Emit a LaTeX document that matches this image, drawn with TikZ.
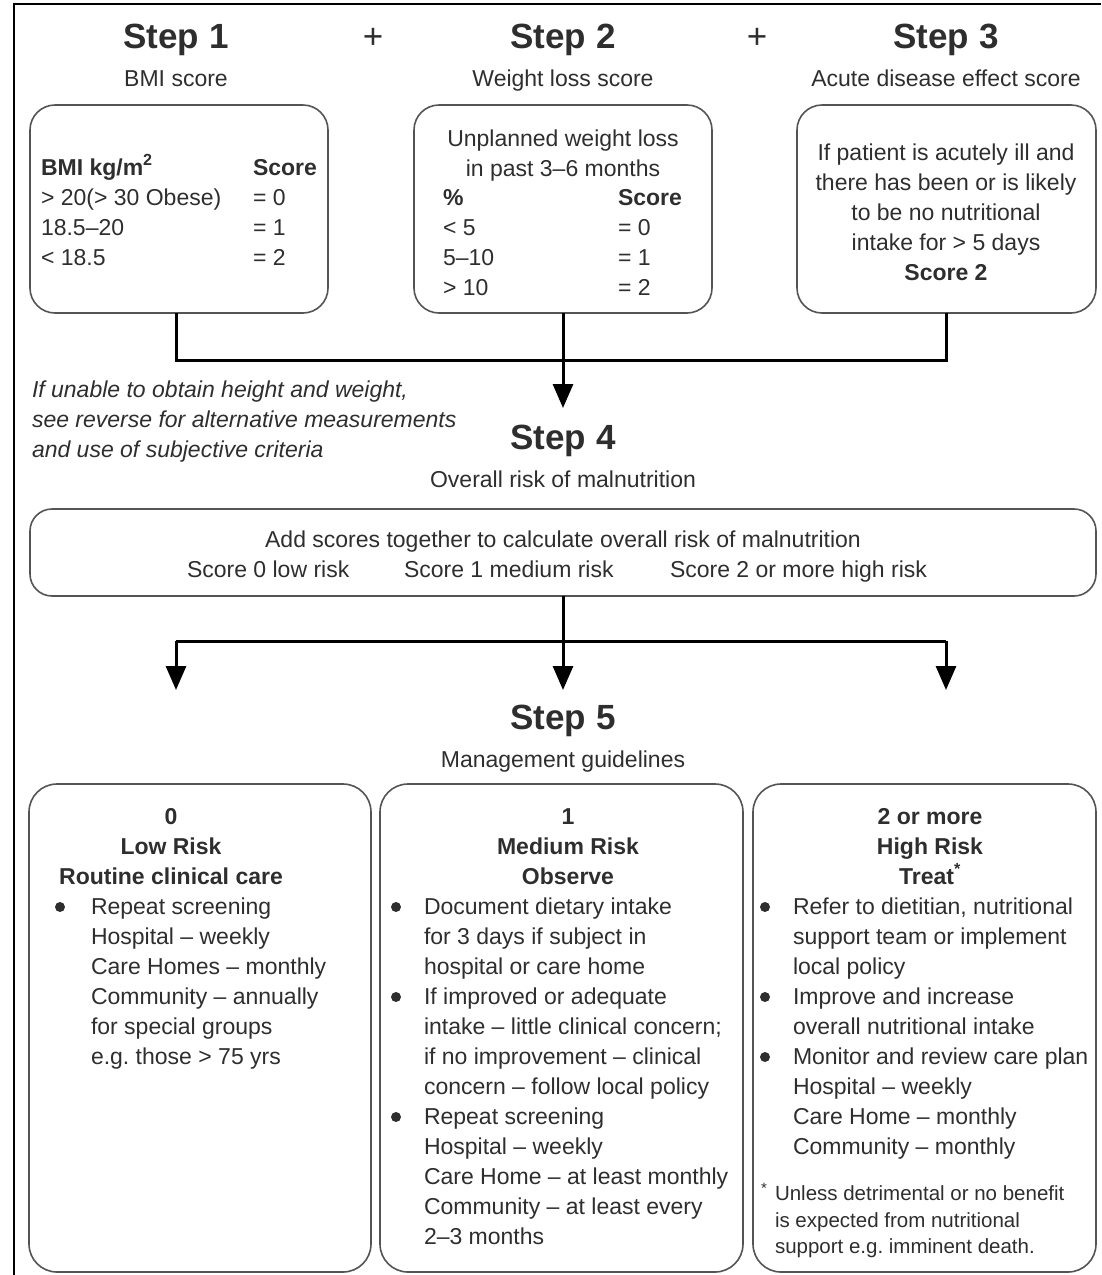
\documentclass[tikz,border=0pt]{standalone}
\usepackage{fontspec}
\setmainfont{Liberation Sans}
\usetikzlibrary{arrows.meta}
\definecolor{txt}{gray}{0.18}
\definecolor{boxc}{gray}{0.33}
\frenchspacing
\begin{document}
\begin{tikzpicture}[x=1pt,y=-1pt,
  every node/.style={inner sep=0pt, outer sep=0pt, text=txt},
  box/.style={draw=boxc, line width=1.6pt, rounded corners=25pt, inner sep=0pt},
  conn/.style={line width=3pt, draw=black},
  arr/.style={conn, -{Triangle[width=20pt,length=24pt]}},
  stepttl/.style={font=\fontsize{35}{40}\selectfont\bfseries, anchor=base},
  plus/.style={font=\fontsize{35}{40}\selectfont, anchor=base},
  subttl/.style={font=\fontsize{23}{30}\selectfont, anchor=base},
  body/.style={font=\fontsize{23}{30}\selectfont},
  bodybf/.style={font=\fontsize{23}{30}\selectfont\bfseries},
  small/.style={font=\fontsize{20.5}{26.5}\selectfont},
  bullet/.style={fill=txt}
]
\frenchspacing
\useasboundingbox (0,0) rectangle (1101,1275);
% outer frame (top and left edges visible)
\draw[line width=2.2pt] (14,1275) -- (14,4) -- (1101,4);

% ---------- titles ----------
\node[stepttl] (t1) at (176,48) {Step 1};
\node[subttl]  (s1) at (176,86) {BMI score};
\node[plus]    (p1) at (373,48) {+};
\node[stepttl] (t2) at (563,48) {Step 2};
\node[subttl]  (s2) at (563,86) {Weight loss score};
\node[plus]    (p2) at (757,48) {+};
\node[stepttl] (t3) at (946,48) {Step 3};
\node[subttl]  (s3) at (946,86) {Acute disease effect score};

% ---------- top boxes ----------
\node[box, minimum width=298pt, minimum height=208pt] (b1) at (179,209) {};
\node[box, minimum width=298pt, minimum height=208pt] (b2) at (563,209) {};
\node[box, minimum width=299pt, minimum height=208pt] (b3) at (946.5,209) {};

% box 1 content
\node[body, anchor=north west, align=left] (b1l) at (41,154)
  {\strut\textbf{BMI kg/m\textsuperscript{2}}\\> 20(> 30 Obese)\\18.5–20\\< 18.5};
\node[body, anchor=north west, align=left] (b1r) at (253,154)
  {\strut\textbf{Score}\\= 0\\= 1\\= 2};

% box 2 content
\node[body, anchor=north, align=center] (b2h) at (563,125)
  {\strut Unplanned weight loss\\in past 3–6 months};
\node[body, anchor=north west, align=left] (b2l) at (443,184)
  {\strut\textbf{\%}\\< 5\\5–10\\> 10};
\node[body, anchor=north west, align=left] (b2r) at (618,184)
  {\strut\textbf{Score}\\= 0\\= 1\\= 2};

% box 3 content
\node[body, anchor=north, align=center] (b3t) at (946,139)
  {\strut If patient is acutely ill and\\there has been or is likely\\to be no nutritional\\intake for > 5 days\\\textbf{Score 2}};

% connectors to step 4
\coordinate (j1) at (176,360);
\coordinate (j3) at (946,360);
\coordinate (e4) at (563,408);
\draw[conn] (b1.south -| j1) -- (j1) -- (j3) -- (b3.south -| j3);
\draw[arr] (b2.south) -- (e4);

% italic note
\node[body, anchor=north west, align=left, font=\fontsize{23}{30}\selectfont\itshape] (note) at (32,376)
  {\strut If unable to obtain height and weight,\\see reverse for alternative measurements\\and use of subjective criteria};

% ---------- step 4 ----------
\node[stepttl] (t4) at (563,449) {Step 4};
\node[subttl]  (s4) at (563,487) {Overall risk of malnutrition};
\node[box, rounded corners=22pt, minimum width=1066pt, minimum height=87pt] (b4) at (563,552.5) {};
\node[subttl] (b4a) at (563,547) {Add scores together to calculate overall risk of malnutrition};
\node[subttl, anchor=base west] (b4b) at (187,577) {Score 0 low risk};
\node[subttl, anchor=base west] (b4c) at (404,577) {Score 1 medium risk};
\node[subttl, anchor=base west] (b4d) at (670,577) {Score 2 or more high risk};

% connectors to step 5
\coordinate (h2) at (563,641);
\coordinate (h1) at (176,641);
\coordinate (h3) at (946,641);
\coordinate (a1) at (176,690);
\coordinate (a2) at (563,690);
\coordinate (a3) at (946,690);
\draw[conn] (b4.south) -- (h2);
\draw[conn] (h1) -- (h3);
\draw[arr] (h1) -- (a1);
\draw[arr] (h2) -- (a2);
\draw[arr] (h3) -- (a3);

% ---------- step 5 ----------
\node[stepttl] (t5) at (563,729) {Step 5};
\node[subttl]  (s5) at (563,767) {Management guidelines};

\node[box, rounded corners=28pt, minimum width=342pt, minimum height=488pt] (bA) at (200,1028) {};
\node[box, rounded corners=28pt, minimum width=363pt, minimum height=488pt] (bB) at (561.5,1028) {};
\node[box, rounded corners=28pt, minimum width=343pt, minimum height=488pt] (bC) at (924.5,1028) {};

% box A
\node[bodybf, anchor=north, align=center] (hA) at (171,803)
  {\strut 0\\Low Risk\\Routine clinical care};
\fill[bullet] (60,907) circle (5pt);
\node[body, anchor=north west, align=left] (tA) at (91,893)
  {\strut Repeat screening\\Hospital – weekly\\Care Homes – monthly\\Community – annually\\for special groups\\e.g. those > 75 yrs};

% box B
\node[bodybf, anchor=north, align=center] (hB) at (568,803)
  {\strut 1\\Medium Risk\\Observe};
\fill[bullet] (396,907) circle (5pt);
\fill[bullet] (396,997) circle (5pt);
\fill[bullet] (396,1117) circle (5pt);
\node[body, anchor=north west, align=left] (tB) at (424,893)
  {\strut Document dietary intake\\for 3 days if subject in\\hospital or care home\\If improved or adequate\\intake – little clinical concern;\\if no improvement – clinical\\concern – follow local policy\\Repeat screening\\Hospital – weekly\\Care Home – at least monthly\\Community – at least every\\2–3 months};

% box C
\node[bodybf, anchor=north, align=center] (hC) at (930,803)
  {\strut 2 or more\\High Risk\\Treat\textsuperscript{*}};
\fill[bullet] (765,907) circle (5pt);
\fill[bullet] (765,997) circle (5pt);
\fill[bullet] (765,1057) circle (5pt);
\node[body, anchor=north west, align=left] (tC) at (793,893)
  {\strut Refer to dietitian, nutritional\\support team or implement\\local policy\\Improve and increase\\overall nutritional intake\\Monitor and review care plan\\Hospital – weekly\\Care Home – monthly\\Community – monthly};
\node[font=\fontsize{15}{15}\selectfont, anchor=north west] (star) at (761,1183) {*};
\node[small, anchor=north west, align=left] (fn) at (775,1182)
  {\strut Unless detrimental or no benefit\\is expected from nutritional\\support e.g. imminent death.};
\end{tikzpicture}
\end{document}
